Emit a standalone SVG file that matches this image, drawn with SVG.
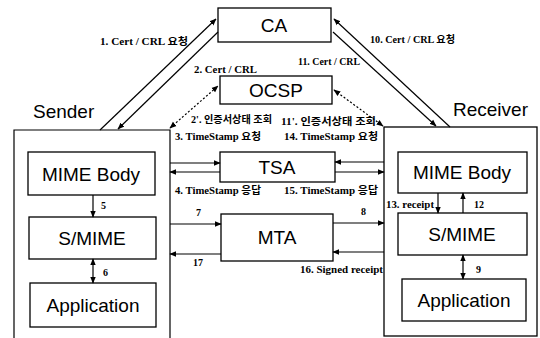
<svg xmlns="http://www.w3.org/2000/svg" width="540" height="338" viewBox="0 0 540 338">
<style>
.box{fill:#fff;stroke:#000;stroke-width:1.3}
.nt{font-family:"Liberation Sans",Arial,sans-serif;font-size:19px;text-anchor:middle;dominant-baseline:central;fill:#000}
.side{font-family:"Liberation Sans",Arial,sans-serif;font-size:19px;fill:#000}
.lb{font-family:"Liberation Serif","Noto Sans CJK KR",serif;font-size:10px;font-weight:bold;fill:#000}
.ln{stroke:#000;stroke-width:1.2;fill:none}
.dt{stroke:#000;stroke-width:1.2;fill:none;stroke-dasharray:2 2}
</style>
<defs>
<marker id="ah" viewBox="0 0 10 10" refX="9" refY="5" markerWidth="7" markerHeight="7" orient="auto-start-reverse" markerUnits="userSpaceOnUse">
<path d="M0,1 L10,5 L0,9 z" fill="#000"/>
</marker>
</defs>
<rect width="540" height="338" fill="#fff"/>

<g id="sender">
<path class="ln" d="M14,338 L14,130 L170,130 L170,338"/>
<text class="side" x="33" y="118">Sender</text>
</g>
<g id="receiver">
<rect class="box" x="384" y="127" width="153" height="209"/>
<text class="side" x="453" y="116">Receiver</text>
</g>
<g id="ca"><rect class="box" x="218" y="8" width="113" height="34"/><text class="nt" x="274" y="25">CA</text></g>
<g id="ocsp"><rect class="box" x="220" y="76" width="112" height="28"/><text class="nt" x="276" y="90">OCSP</text></g>
<g id="tsa"><rect class="box" x="220" y="152" width="115" height="30"/><text class="nt" x="277" y="167">TSA</text></g>
<g id="mta"><rect class="box" x="221" y="214" width="112" height="47"/><text class="nt" x="277" y="237">MTA</text></g>
<g id="s-mime-body"><rect class="box" x="28" y="152" width="127" height="43"/><text class="nt" x="91" y="174">MIME Body</text></g>
<g id="s-smime"><rect class="box" x="29" y="217" width="127" height="42"/><text class="nt" x="92" y="238">S/MIME</text></g>
<g id="s-app"><rect class="box" x="30" y="283" width="126" height="44"/><text class="nt" x="93" y="305">Application</text></g>
<g id="r-mime-body"><rect class="box" x="398" y="152" width="129" height="41"/><text class="nt" x="462" y="172">MIME Body</text></g>
<g id="r-smime"><rect class="box" x="398" y="213" width="129" height="42"/><text class="nt" x="462" y="234">S/MIME</text></g>
<g id="r-app"><rect class="box" x="402" y="279" width="124" height="42"/><text class="nt" x="464" y="300">Application</text></g>

<g id="connectors">
<line class="ln" x1="100" y1="130" x2="216" y2="19" marker-end="url(#ah)"/>
<line class="ln" x1="218" y1="32" x2="118" y2="129" marker-end="url(#ah)"/>
<line class="ln" x1="450" y1="127" x2="334" y2="19" marker-end="url(#ah)"/>
<line class="ln" x1="333" y1="32" x2="436" y2="126" marker-end="url(#ah)"/>
<line class="dt" x1="170" y1="128" x2="218" y2="86" marker-start="url(#ah)" marker-end="url(#ah)"/>
<line class="dt" x1="334" y1="90" x2="383" y2="126" marker-start="url(#ah)" marker-end="url(#ah)"/>
<line class="ln" x1="170" y1="163" x2="220" y2="163" marker-end="url(#ah)"/>
<line class="ln" x1="220" y1="172" x2="170" y2="172" marker-end="url(#ah)"/>
<line class="ln" x1="384" y1="162" x2="335" y2="162" marker-end="url(#ah)"/>
<line class="ln" x1="335" y1="172" x2="384" y2="172" marker-end="url(#ah)"/>
<line class="ln" x1="170" y1="224" x2="221" y2="224" marker-end="url(#ah)"/>
<line class="ln" x1="221" y1="254" x2="170" y2="254" marker-end="url(#ah)"/>
<line class="ln" x1="333" y1="223" x2="384" y2="223" marker-end="url(#ah)"/>
<line class="ln" x1="384" y1="252" x2="333" y2="252" marker-end="url(#ah)"/>
<line class="ln" x1="93" y1="195" x2="93" y2="217" marker-end="url(#ah)"/>
<line class="ln" x1="93" y1="259" x2="93" y2="283" marker-start="url(#ah)" marker-end="url(#ah)"/>
<line class="ln" x1="438" y1="193" x2="438" y2="213" marker-end="url(#ah)"/>
<line class="ln" x1="463" y1="213" x2="463" y2="193" marker-end="url(#ah)"/>
<line class="ln" x1="463" y1="255" x2="463" y2="279" marker-start="url(#ah)" marker-end="url(#ah)"/>

<text class="lb" x="100" y="45" textLength="88" lengthAdjust="spacingAndGlyphs">1. Cert / CRL 요청</text>
<text class="lb" x="194" y="73" textLength="63" lengthAdjust="spacingAndGlyphs">2. Cert / CRL</text>
<text class="lb" x="370" y="43" textLength="85" lengthAdjust="spacingAndGlyphs">10. Cert / CRL 요청</text>
<text class="lb" x="298" y="65" textLength="62" lengthAdjust="spacingAndGlyphs">11. Cert / CRL</text>
<text class="lb" x="191" y="123" textLength="81" lengthAdjust="spacingAndGlyphs">2'. 인증서상태 조회</text>
<text class="lb" x="281" y="125" textLength="95" lengthAdjust="spacingAndGlyphs">11'. 인증서상태 조회</text>
<text class="lb" x="175" y="140" textLength="86" lengthAdjust="spacingAndGlyphs">3. TimeStamp 요청</text>
<text class="lb" x="284" y="140" textLength="94" lengthAdjust="spacingAndGlyphs">14. TimeStamp 요청</text>
<text class="lb" x="175" y="194" textLength="86" lengthAdjust="spacingAndGlyphs">4. TimeStamp 응답</text>
<text class="lb" x="284" y="194" textLength="94" lengthAdjust="spacingAndGlyphs">15. TimeStamp 응답</text>
<text class="lb" x="196" y="216">7</text>
<text class="lb" x="193" y="266">17</text>
<text class="lb" x="361" y="215">8</text>
<text class="lb" x="300" y="273" textLength="83" lengthAdjust="spacingAndGlyphs">16. Signed receipt</text>
<text class="lb" x="101" y="209">5</text>
<text class="lb" x="103" y="276">6</text>
<text class="lb" x="386" y="208" textLength="48" lengthAdjust="spacingAndGlyphs">13. receipt</text>
<text class="lb" x="474" y="208">12</text>
<text class="lb" x="476" y="273">9</text>
</g>
</svg>
